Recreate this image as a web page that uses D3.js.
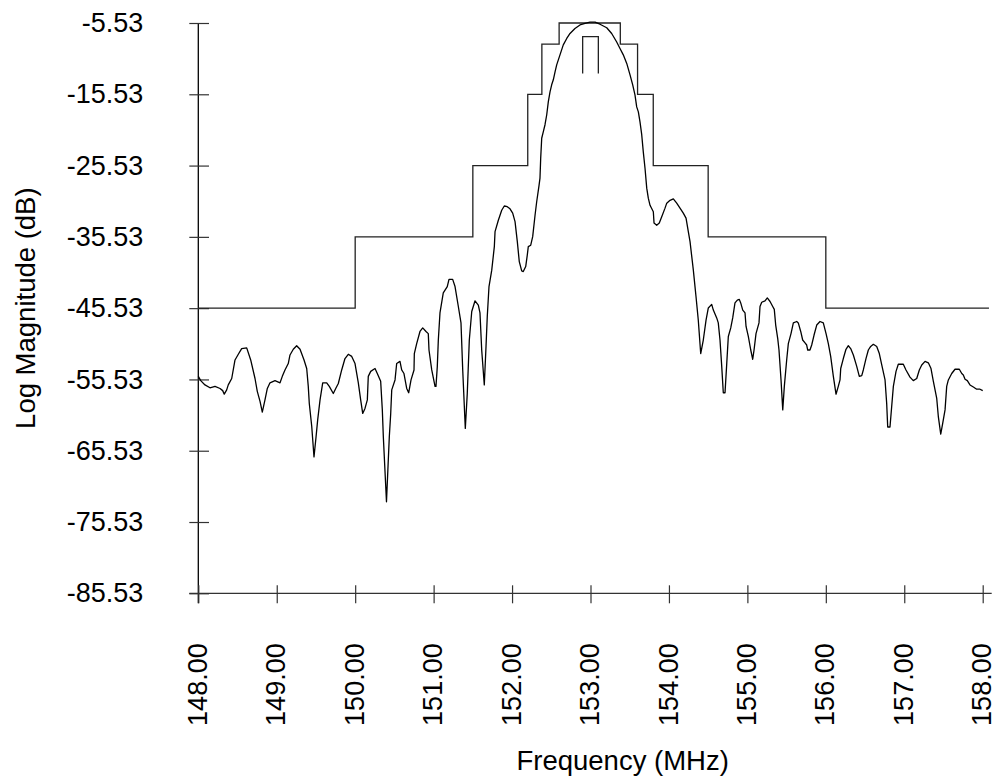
<!DOCTYPE html>
<html><head><meta charset="utf-8">
<script src="https://cdn.jsdelivr.net/npm/d3@7"></script>
<style>body{margin:0;background:#fff}svg{display:block}text{font-family:"Liberation Sans",Arial,sans-serif;fill:#000}</style>
</head><body>
<script>
const freqs = [148.000,148.031,148.085,148.149,148.213,148.277,148.311,148.331,148.362,148.382,
148.426,148.468,148.510,148.553,148.617,148.668,148.723,148.752,148.787,148.816,
148.850,148.880,148.914,148.978,149.042,149.071,149.105,149.147,149.169,149.211,
149.254,149.297,149.348,149.382,149.402,149.415,149.446,149.475,149.501,149.522,
149.552,149.586,149.637,149.670,149.721,149.752,149.785,149.828,149.870,149.912,
149.956,149.998,150.040,150.070,150.096,150.125,150.155,150.167,150.198,150.253,
150.282,150.325,150.346,150.359,150.399,150.435,150.453,150.466,150.508,150.529,
150.571,150.593,150.622,150.657,150.682,150.712,150.750,150.754,150.784,150.826,
150.861,150.903,150.932,150.941,150.976,151.018,151.030,151.047,151.060,151.081,
151.123,151.174,151.196,151.243,151.273,151.315,151.349,151.371,151.404,151.429,
151.455,151.486,151.528,151.570,151.591,151.613,151.646,151.668,151.684,151.706,
151.741,151.774,151.783,151.825,151.868,151.901,151.939,151.974,152.008,152.038,
152.067,152.092,152.123,152.143,152.174,152.194,152.207,152.238,152.263,152.293,
152.314,152.344,152.356,152.365,152.378,152.398,152.420,152.442,152.462,152.484,
152.505,152.526,152.548,152.569,152.611,152.653,152.697,152.739,152.802,152.866,
152.930,152.994,153.058,153.121,153.207,153.270,153.334,153.376,153.418,153.462,
153.504,153.538,153.567,153.589,153.610,153.631,153.653,153.673,153.695,153.717,
153.737,153.759,153.801,153.810,153.844,153.877,153.908,153.950,153.972,154.014,
154.056,154.099,154.141,154.183,154.218,154.247,154.269,154.311,154.345,154.374,
154.405,154.438,154.473,154.502,154.545,154.566,154.609,154.629,154.651,154.673,
154.693,154.715,154.737,154.757,154.788,154.813,154.842,154.872,154.897,154.915,
154.941,154.970,154.983,155.012,155.043,155.068,155.085,155.110,155.148,155.161,
155.183,155.225,155.254,155.289,155.323,155.343,155.361,155.387,155.403,155.429,
155.451,155.471,155.501,155.522,155.556,155.586,155.629,155.649,155.680,155.705,
155.735,155.756,155.769,155.798,155.820,155.850,155.884,155.926,155.968,156.003,
156.032,156.062,156.096,156.130,156.159,156.181,156.190,156.223,156.257,156.287,
156.317,156.351,156.394,156.427,156.458,156.478,156.512,156.542,156.572,156.606,
156.649,156.682,156.713,156.755,156.776,156.789,156.818,156.840,156.861,156.895,
156.924,156.988,157.022,157.073,157.115,157.159,157.192,157.223,157.265,157.307,
157.341,157.371,157.414,157.434,157.465,157.490,157.520,157.541,157.562,157.605,
157.647,157.702,157.733,157.753,157.775,157.804,157.838,157.881,157.923,157.966,
158.000];
const magnitudes = [-55.1,-55.7,-56.3,-56.7,-56.5,-56.8,-57.1,-57.6,-57.0,-56.3,
-55.4,-52.8,-52.0,-51.2,-51.1,-52.8,-55.4,-57.2,-58.6,-60.1,
-58.4,-56.8,-56.0,-55.7,-56.0,-55.1,-54.2,-53.3,-52.1,-51.3,
-50.8,-51.3,-52.8,-54.0,-56.5,-58.9,-62.1,-66.4,-63.6,-61.2,
-58.4,-56.0,-56.0,-56.5,-57.5,-56.8,-56.1,-54.2,-52.6,-52.0,
-52.3,-53.3,-56.0,-58.4,-60.3,-59.6,-58.4,-55.1,-54.4,-54.0,
-54.7,-55.8,-59.8,-63.6,-72.7,-63.6,-60.3,-57.0,-55.6,-53.3,
-53.0,-54.2,-54.7,-56.8,-57.4,-55.6,-54.2,-51.9,-50.5,-48.8,
-48.3,-48.8,-49.1,-51.4,-54.2,-56.5,-56.5,-53.7,-50.0,-46.2,
-43.4,-42.5,-41.5,-41.5,-42.5,-45.3,-47.6,-54.2,-62.4,-57.5,
-50.0,-46.0,-44.5,-45.1,-46.2,-51.4,-56.3,-50.9,-46.7,-42.5,
-40.2,-36.9,-34.8,-33.2,-31.8,-31.2,-31.3,-31.6,-32.2,-33.4,
-36.2,-39.0,-40.3,-40.4,-39.7,-38.1,-36.9,-36.7,-35.5,-32.5,
-30.6,-28.3,-27.3,-24.5,-21.7,-20.8,-19.8,-18.4,-16.6,-15.2,
-14.2,-13.5,-12.4,-11.4,-10.0,-8.6,-7.7,-7.0,-6.3,-5.8,
-5.6,-5.4,-5.4,-5.7,-6.2,-7.0,-8.2,-9.1,-10.0,-11.2,
-12.8,-14.2,-15.6,-17.3,-18.0,-19.4,-21.2,-23.6,-25.9,-28.7,
-30.1,-31.1,-32.0,-33.6,-33.9,-33.6,-32.7,-31.5,-30.8,-30.4,
-30.2,-30.8,-31.5,-32.2,-32.9,-34.8,-36.2,-40.2,-43.9,-47.2,
-51.9,-50.0,-47.2,-45.5,-45.0,-45.8,-46.9,-47.6,-50.0,-53.7,
-57.4,-57.4,-53.3,-49.5,-48.3,-46.9,-44.8,-44.4,-44.3,-44.8,
-45.8,-46.2,-48.1,-49.5,-51.4,-52.7,-51.4,-49.1,-47.6,-45.3,
-44.7,-44.5,-44.1,-44.6,-45.3,-45.7,-47.9,-49.8,-51.4,-55.6,
-59.8,-56.5,-52.8,-50.5,-49.1,-47.6,-47.4,-47.6,-48.8,-50.0,
-50.4,-50.7,-51.4,-51.4,-50.7,-49.3,-47.9,-47.4,-47.6,-49.1,
-50.5,-52.3,-55.1,-57.6,-56.5,-55.6,-54.0,-52.6,-51.3,-50.8,
-51.2,-52.1,-53.7,-55.1,-55.0,-54.2,-52.6,-51.4,-50.9,-50.6,
-50.9,-51.9,-53.5,-55.6,-58.9,-62.2,-62.2,-59.3,-56.5,-54.4,
-53.4,-53.4,-54.2,-55.2,-55.7,-55.4,-54.2,-53.5,-53.0,-53.2,
-54.0,-55.8,-58.2,-60.7,-63.2,-61.7,-59.8,-56.5,-55.6,-54.7,
-54.1,-54.1,-54.7,-54.9,-55.5,-55.7,-56.3,-56.6,-56.9,-56.9,
-57.1];
const maskFreqs  = [148, 150, 151.5, 152.2, 152.38, 152.6, 153.38, 153.6, 153.8, 154.5, 156, 158.08];
const maskLevels = [-45.53, -35.53, -25.53, -15.53, -8.48, -5.53, -8.48, -15.53, -25.53, -35.53, -45.53, -45.53];
const markerFreqs  = [152.9, 152.9, 153.1, 153.1];
const markerLevels = [-12.6, -7.45, -7.45, -12.6];
const yTickValues = [-5.53, -15.53, -25.53, -35.53, -45.53, -55.53, -65.53, -75.53, -85.53];
const xTickValues = [148, 149, 150, 151, 152, 153, 154, 155, 156, 157, 158];
const xTitle = "Frequency (MHz)";
const yTitle = "Log Magnitude (dB)";

const W = 996, H = 781;
const svg = d3.select("body").append("svg").attr("width", W).attr("height", H);
svg.append("rect").attr("width", W).attr("height", H).attr("fill", "#fff");

const x = d3.scaleLinear().domain([148, 158]).range([198.3, 982.7]);
const y = d3.scaleLinear().domain([-5.53, -85.53]).range([23, 593.3]);

// axes lines
svg.append("line").attr("x1", x(148)).attr("x2", x(148)).attr("y1", y(-5.53)).attr("y2", y(-85.53) + 10)
  .attr("stroke", "#000").attr("stroke-width", 1.3);
svg.append("line").attr("x1", x(148) - 9).attr("x2", x(158) + 9).attr("y1", y(-85.53)).attr("y2", y(-85.53))
  .attr("stroke", "#333").attr("stroke-width", 1.2);

const FS = 27;
// y axis
const gy = svg.append("g").attr("transform", `translate(${x(148)},0)`)
  .call(d3.axisLeft(y).tickValues(yTickValues).tickSize(9).tickPadding(46).tickFormat(d => d.toFixed(2)));
gy.select(".domain").remove();
gy.selectAll(".tick line").attr("x1", -9).attr("x2", 10.7).attr("stroke", "#333").attr("stroke-width", 1.2);
gy.selectAll(".tick text").attr("font-size", FS).attr("font-family", "Liberation Sans, Arial, sans-serif").attr("fill", "#000");

// x axis
const gx = svg.append("g").attr("transform", `translate(0,${y(-85.53)})`)
  .call(d3.axisBottom(x).tickValues(xTickValues).tickSize(10).tickFormat(d => d.toFixed(2)));
gx.select(".domain").remove();
gx.selectAll(".tick line").attr("y1", -8).attr("y2", 10).attr("stroke", "#333").attr("stroke-width", 1.2);
gx.selectAll(".tick text").attr("font-size", FS).attr("font-family", "Liberation Sans, Arial, sans-serif").attr("fill", "#000")
  .attr("x", 0).attr("y", 0).attr("dy", "0.3em").attr("text-anchor", "end")
  .attr("transform", "translate(0,50) rotate(-90)");

// titles
svg.append("text").attr("x", 622.7).attr("y", 770).attr("text-anchor", "middle")
  .attr("font-size", 27.5).text(xTitle);
svg.append("text").attr("transform", `translate(34.5,${(y(-5.53) + y(-85.53)) / 2}) rotate(-90)`)
  .attr("text-anchor", "middle").attr("font-size", 27.5).text(yTitle);

// mask
const mask = maskFreqs.map((f, i) => ({f, m: maskLevels[i]}));
svg.append("path").datum(mask)
  .attr("d", d3.line().x(d => x(d.f)).y(d => y(d.m)).curve(d3.curveStepAfter))
  .attr("fill", "none").attr("stroke", "#222").attr("stroke-width", 1.3);

// marker
const marker = markerFreqs.map((f, i) => ({f, m: markerLevels[i]}));
svg.append("path").datum(marker)
  .attr("d", d3.line().x(d => x(d.f)).y(d => y(d.m)))
  .attr("fill", "none").attr("stroke", "#222").attr("stroke-width", 1.3);

// trace
const trace = freqs.map((f, i) => ({f, m: magnitudes[i]}));
svg.append("path").datum(trace)
  .attr("d", d3.line().x(d => x(d.f)).y(d => y(d.m)))
  .attr("fill", "none").attr("stroke", "#000").attr("stroke-width", 1.3).attr("stroke-linejoin", "round");
</script>
</body></html>
